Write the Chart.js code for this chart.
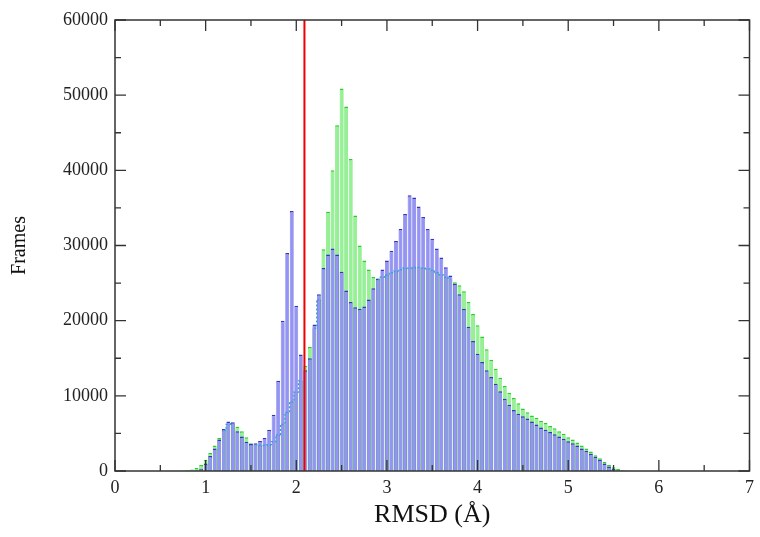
<!DOCTYPE html>
<html>
<head>
<meta charset="utf-8">
<script src="https://cdn.jsdelivr.net/npm/chart.js@4/dist/chart.umd.min.js"></script>
<style>
  body { margin: 0; background: #fff; }
  canvas { display: block; }
</style>
</head>
<body>
<canvas id="rmsdChart" width="760" height="537"></canvas>
<script>
// Histogram bins (RMSD, Å) - bin centres
const bins = [
  0.60, 0.65, 0.70, 0.75, 0.80, 0.85, 0.90, 0.95, 1.00, 1.05,
  1.10, 1.15, 1.20, 1.25, 1.30, 1.35, 1.40, 1.45, 1.50, 1.55,
  1.60, 1.65, 1.70, 1.75, 1.80, 1.85, 1.90, 1.95, 2.00, 2.05,
  2.10, 2.15, 2.20, 2.25, 2.30, 2.35, 2.40, 2.45, 2.50, 2.55,
  2.60, 2.65, 2.70, 2.75, 2.80, 2.85, 2.90, 2.95, 3.00, 3.05,
  3.10, 3.15, 3.20, 3.25, 3.30, 3.35, 3.40, 3.45, 3.50, 3.55,
  3.60, 3.65, 3.70, 3.75, 3.80, 3.85, 3.90, 3.95, 4.00, 4.05,
  4.10, 4.15, 4.20, 4.25, 4.30, 4.35, 4.40, 4.45, 4.50, 4.55,
  4.60, 4.65, 4.70, 4.75, 4.80, 4.85, 4.90, 4.95, 5.00, 5.05,
  5.10, 5.15, 5.20, 5.25, 5.30, 5.35, 5.40, 5.45, 5.50, 5.55,
  5.60, 5.65, 5.70, 5.75
];

// Frames per bin, blue run
const blueFrames = [
  0, 0, 0, 0, 0, 0, 50, 300, 1000, 2000,
  3000, 4200, 5600, 6600, 6500, 5300, 4600, 3900, 3600, 3700,
  4000, 4400, 5500, 7500, 12000, 20000, 29000, 34600, 22000, 15500,
  13400, 15000, 19500, 23500, 27000, 28800, 29600, 28800, 26500, 24000,
  22500, 21800, 21600, 21900, 22800, 24300, 25600, 26800, 28000, 29300,
  30600, 32200, 34200, 36700, 36400, 35200, 33800, 32200, 30900, 29600,
  28400, 27100, 26000, 24900, 23500, 21600, 19200, 17300, 15600, 14500,
  13400, 12500, 11600, 10600, 9600, 8800, 8100, 7600, 7300, 7000,
  6600, 6200, 5800, 5500, 5200, 4900, 4600, 4300, 3950, 3700,
  3400, 3000, 2700, 2300, 1900, 1500, 1000, 600, 250, 80,
  0, 0, 0, 0
];

// Frames per bin, green run
const greenFrames = [
  20, 30, 50, 80, 120, 200, 400, 800, 1500, 2400,
  3400, 4400, 5400, 6200, 6300, 5900, 5300, 4500, 3700, 3500,
  3400, 3400, 3500, 3900, 4800, 6200, 7800, 9200, 10500, 12000,
  14000, 16500, 19000, 22800, 29500, 34500, 40000, 46000, 50900, 48500,
  41500, 34000, 30000, 28000, 26800, 25800, 25500, 25800, 26100, 26400,
  26600, 26800, 27000, 27000, 27100, 27100, 27000, 26900, 26700, 26400,
  26100, 25800, 25500, 25100, 24700, 23900, 22500, 20900, 19400, 17900,
  16200, 14800, 13600, 12400, 11300, 10400, 9700, 9000, 8300, 7800,
  7400, 7100, 6700, 6400, 6000, 5700, 5300, 4950, 4500, 4200,
  3800, 3400, 3000, 2600, 2100, 1700, 1200, 800, 500, 250,
  120, 50, 20, 0
];

// Reference cutoff line and axis ticks
const cutoffRmsd = 2.09;
const xMajor = [0, 1, 2, 3, 4, 5, 6, 7];
const xMinor = [0.5, 1.5, 2.5, 3.5, 4.5, 5.5, 6.5];
const yMajor = [0, 10000, 20000, 30000, 40000, 50000, 60000];
const yMinor = [5000, 15000, 25000, 35000, 45000, 55000];

const serif = 'Liberation Serif';

// green outline that shows through the blue bars
const greenHidden = greenFrames.map((g, i) => (g < blueFrames[i] ? g : null));

// Frame, inner ticks and cutoff line
const framePlugin = {
  id: 'frame',
  afterDatasetsDraw(chart) {
    const { ctx, chartArea: a, scales: { x, y } } = chart;
    ctx.save();

    const cx = x.getPixelForValue(cutoffRmsd);
    ctx.strokeStyle = '#ee0000';
    ctx.lineWidth = 2;
    ctx.beginPath();
    ctx.moveTo(cx, y.getPixelForValue(0));
    ctx.lineTo(cx, y.getPixelForValue(60000));
    ctx.stroke();

    ctx.strokeStyle = '#333';
    ctx.lineWidth = 1.5;
    ctx.strokeRect(a.left, a.top, a.right - a.left, a.bottom - a.top);

    ctx.lineWidth = 1.3;
    ctx.beginPath();
    const xt = (v, len) => {
      const px = x.getPixelForValue(v);
      ctx.moveTo(px, a.bottom); ctx.lineTo(px, a.bottom - len);
      ctx.moveTo(px, a.top); ctx.lineTo(px, a.top + len);
    };
    const yt = (v, len) => {
      const py = y.getPixelForValue(v);
      ctx.moveTo(a.left, py); ctx.lineTo(a.left + len, py);
      ctx.moveTo(a.right, py); ctx.lineTo(a.right - len, py);
    };
    xMajor.forEach(v => xt(v, 11));
    xMinor.forEach(v => xt(v, 6));
    yMajor.forEach(v => yt(v, 11));
    yMinor.forEach(v => yt(v, 6));
    ctx.stroke();
    ctx.restore();
  }
};

const barBorder = { top: 1.5, left: 0.5, right: 0.5, bottom: 0 };

new Chart(document.getElementById('rmsdChart'), {
  type: 'bar',
  data: {
    datasets: [
      {
        type: 'line',
        data: bins.map((b, i) => ({ x: b, y: greenHidden[i] })),
        borderColor: '#2f9fdc',
        borderWidth: 1.2,
        borderDash: [2, 2],
        pointRadius: 0,
        stepped: 'middle',
        spanGaps: false,
        order: 0
      },
      {
        data: bins.map((b, i) => ({ x: b, y: blueFrames[i] })),
        backgroundColor: '#9494f6',
        borderColor: '#3535c0',
        borderWidth: barBorder,
        grouped: false,
        barPercentage: 1,
        categoryPercentage: 0.84,
        order: 1
      },
      {
        data: bins.map((b, i) => ({ x: b, y: greenFrames[i] })),
        backgroundColor: '#94f294',
        borderColor: '#2ccc2c',
        borderWidth: barBorder,
        grouped: false,
        barPercentage: 1,
        categoryPercentage: 0.84,
        order: 2
      }
    ]
  },
  options: {
    responsive: false,
    animation: false,
    layout: { padding: { top: 20, right: 5, left: 0, bottom: 0 } },
    plugins: { legend: { display: false }, tooltip: { enabled: false } },
    scales: {
      x: {
        type: 'linear',
        min: 0,
        max: 7,
        offset: false,
        grid: { display: false, drawTicks: false },
        border: { display: false },
        ticks: {
          stepSize: 1,
          padding: 6,
          maxRotation: 0,
          color: '#222',
          font: { family: serif, size: 18 },
          callback: v => String(v)
        },
        title: {
          display: true,
          text: 'RMSD (Å)',
          color: '#111',
          font: { family: serif, size: 26 },
          padding: { top: 6, bottom: 6 }
        },
        afterFit: s => { s.height = 66; }
      },
      y: {
        min: 0,
        max: 60000,
        grid: { display: false, drawTicks: false },
        border: { display: false },
        ticks: {
          stepSize: 10000,
          padding: 7,
          color: '#222',
          font: { family: serif, size: 18 },
          callback: v => String(v)
        },
        title: {
          display: true,
          text: 'Frames',
          color: '#111',
          font: { family: serif, size: 20 },
          padding: { top: 8, bottom: 4 }
        },
        afterFit: s => { s.width = 115; }
      }
    }
  },
  plugins: [framePlugin]
});
</script>
</body>
</html>
